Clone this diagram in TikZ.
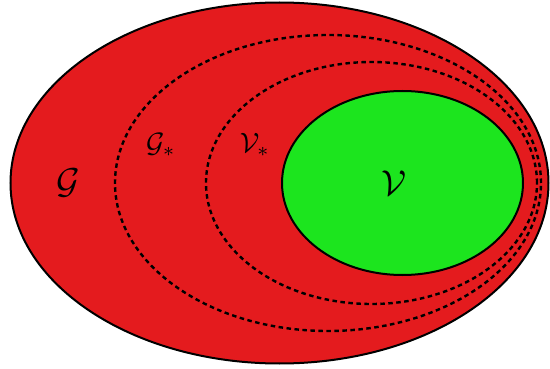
\documentclass[tikz,border=0pt]{standalone}
\usepackage{xcolor}
\usepackage{tikz}
\usetikzlibrary{shapes.geometric, positioning}
\definecolor{setred}{HTML}{E41B1E}
\definecolor{setgreen}{HTML}{1CE51E}
\tikzset{
  region/.style={ellipse, draw=black, line width=2pt, inner sep=0pt},
  bound/.style={ellipse, draw=black, dash pattern=on 4.5pt off 3.5pt, line width=2.4pt, inner sep=0pt},
  biglabel/.style={scale=3.6, transform shape, inner sep=0pt},
  smalllabel/.style={scale=2.8, transform shape, inner sep=0pt},
}

\begin{document}
\begin{tikzpicture}[x=1pt, y=-1pt]
  \useasboundingbox (0,0) rectangle (550,369);
  % the sets
  \node[region, fill=setred, minimum width=538pt, minimum height=361pt] (G) at (279.5,183) {};
  \node[bound, minimum width=426pt, minimum height=296pt] (Gs) at (328,183) {};
  \node[bound, minimum width=331pt, minimum height=242pt] (Vs) at (371.5,183) {};
  \node[region, fill=setgreen, minimum width=241pt, minimum height=184pt] (V) at (402.5,183) {};
  % labels
  \node[biglabel] (Glab) at (68,183) {$\mathcal{G}$};
  \node[smalllabel] (Gslab) at (161,145) {$\mathcal{G}_*$};
  \node[smalllabel] (Vslab) at (255,145) {$\mathcal{V}_*$};
  \node[biglabel] (Vlab) at (394,183) {$\mathcal{V}$};
\end{tikzpicture}
\end{document}
